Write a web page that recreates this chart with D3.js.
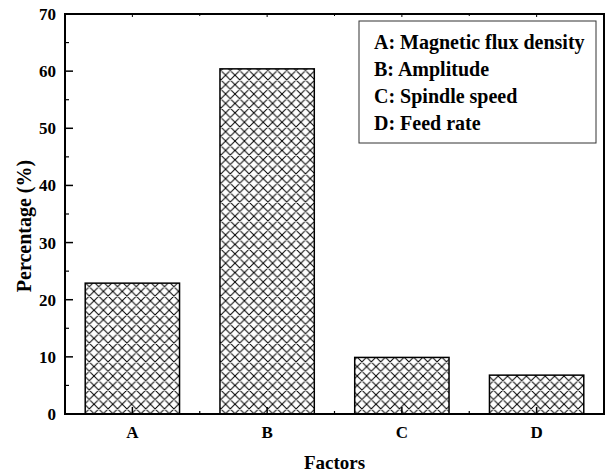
<!DOCTYPE html>
<html>
<head>
<meta charset="utf-8">
<script src="https://cdn.jsdelivr.net/npm/d3@7"></script>
<style>
  body { margin: 0; background: #fff; }
  svg text { font-family: "Times New Roman", "Liberation Serif", Times, "DejaVu Serif", serif; font-weight: bold; fill: #000; }
</style>
</head>
<body>
<svg id="chart" width="606" height="473"></svg>
<script>
// data
var factors = ["A", "B", "C", "D"];
var percentages = [22.9, 60.4, 9.9, 6.8];
var legendLabels = ["A: Magnetic flux density", "B: Amplitude", "C: Spindle speed", "D: Feed rate"];
var yTicks = [0, 10, 20, 30, 40, 50, 60, 70];

var svg = d3.select("#chart");
var margin = { left: 65, top: 14, right: 2, bottom: 59 };
var W = 606, H = 473;

var x = d3.scaleBand()
    .domain(factors)
    .range([margin.left, W - margin.right])
    .paddingInner(0.3)
    .paddingOuter(0.15);

var y = d3.scaleLinear()
    .domain([0, 70])
    .range([H - margin.bottom, margin.top]);

// crosshatch pattern
var defs = svg.append("defs");
var pat = defs.append("pattern")
    .attr("id", "hatch")
    .attr("patternUnits", "userSpaceOnUse")
    .attr("width", 9.4)
    .attr("height", 9.4);
pat.append("rect").attr("width", 9.4).attr("height", 9.4).attr("fill", "#fff");
pat.append("path")
    .attr("d", "M0,0L9.4,9.4M9.4,0L0,9.4M-1,1L1,-1M8.4,10.4L10.4,8.4M-1,8.4L1,10.4M8.4,-1L10.4,1")
    .attr("stroke", "#000")
    .attr("stroke-width", 1);

// bars
svg.selectAll(".bar")
    .data(factors)
    .enter().append("rect")
    .attr("class", "bar")
    .attr("x", function(d) { return x(d); })
    .attr("y", function(d, i) { return y(percentages[i]); })
    .attr("width", x.bandwidth())
    .attr("height", function(d, i) { return y(0) - y(percentages[i]); })
    .attr("fill", "url(#hatch)")
    .attr("stroke", "#000")
    .attr("stroke-width", 1.5);

var x0 = margin.left, x1 = W - margin.right;
var y0 = y(0), y1 = y(70);

// y ticks (inward)
var minorY = d3.range(5, 70, 10);
svg.selectAll(".ymaj")
    .data(yTicks)
    .enter().append("line")
    .attr("x1", x0).attr("x2", x0 + 8)
    .attr("y1", function(d) { return y(d); })
    .attr("y2", function(d) { return y(d); })
    .attr("stroke", "#000").attr("stroke-width", 1.5);
svg.selectAll(".ymin")
    .data(minorY)
    .enter().append("line")
    .attr("x1", x0).attr("x2", x0 + 4)
    .attr("y1", function(d) { return y(d); })
    .attr("y2", function(d) { return y(d); })
    .attr("stroke", "#000").attr("stroke-width", 1.2);
svg.selectAll(".ylab")
    .data(yTicks)
    .enter().append("text")
    .attr("x", x0 - 9)
    .attr("y", function(d) { return y(d); })
    .attr("dy", "0.35em")
    .attr("text-anchor", "end")
    .style("font-size", "17px")
    .text(function(d) { return d; });

// x ticks
var bounds = factors.slice(1).map(function(d) { return x(d) - x.step() * x.paddingInner() / 2; });
svg.selectAll(".xmaj")
    .data(factors)
    .enter().append("line")
    .attr("x1", function(d) { return x(d) + x.bandwidth() / 2; })
    .attr("x2", function(d) { return x(d) + x.bandwidth() / 2; })
    .attr("y1", y0).attr("y2", y0 - 7)
    .attr("stroke", "#000").attr("stroke-width", 1.5);
svg.selectAll(".xmin")
    .data(bounds)
    .enter().append("line")
    .attr("x1", function(d) { return d; })
    .attr("x2", function(d) { return d; })
    .attr("y1", y0).attr("y2", y0 - 3)
    .attr("stroke", "#000").attr("stroke-width", 1.2);
// top ticks
svg.selectAll(".tmaj")
    .data(factors)
    .enter().append("line")
    .attr("x1", function(d) { return x(d) + x.bandwidth() / 2; })
    .attr("x2", function(d) { return x(d) + x.bandwidth() / 2; })
    .attr("y1", y1).attr("y2", y1 + 3)
    .attr("stroke", "#000").attr("stroke-width", 1);
svg.selectAll(".tmin")
    .data(bounds)
    .enter().append("line")
    .attr("x1", function(d) { return d; })
    .attr("x2", function(d) { return d; })
    .attr("y1", y1).attr("y2", y1 + 2)
    .attr("stroke", "#000").attr("stroke-width", 1);
svg.selectAll(".xlab")
    .data(factors)
    .enter().append("text")
    .attr("x", function(d) { return x(d) + x.bandwidth() / 2; })
    .attr("y", 438)
    .attr("text-anchor", "middle")
    .style("font-size", "17px")
    .text(function(d) { return d; });

// frame
svg.append("rect")
    .attr("x", x0).attr("y", y1)
    .attr("width", x1 - x0).attr("height", y0 - y1)
    .attr("fill", "none")
    .attr("stroke", "#000").attr("stroke-width", 2);

// axis titles
svg.append("text")
    .attr("x", (x0 + x1) / 2)
    .attr("y", 469)
    .attr("text-anchor", "middle")
    .style("font-size", "19px")
    .text("Factors");
svg.append("text")
    .attr("transform", "translate(31,226) rotate(-90)")
    .attr("text-anchor", "middle")
    .style("font-size", "20px")
    .text("Percentage (%)");

// legend
var lg = svg.append("g");
lg.append("rect")
    .attr("x", 359).attr("y", 21)
    .attr("width", 237).attr("height", 122)
    .attr("fill", "#fff")
    .attr("stroke", "#333").attr("stroke-width", 1);
lg.selectAll("text")
    .data(legendLabels)
    .enter().append("text")
    .attr("x", 374)
    .attr("y", function(d, i) { return 48.5 + i * 27.3; })
    .style("font-size", "20px")
    .text(function(d) { return d; });
</script>
</body>
</html>
